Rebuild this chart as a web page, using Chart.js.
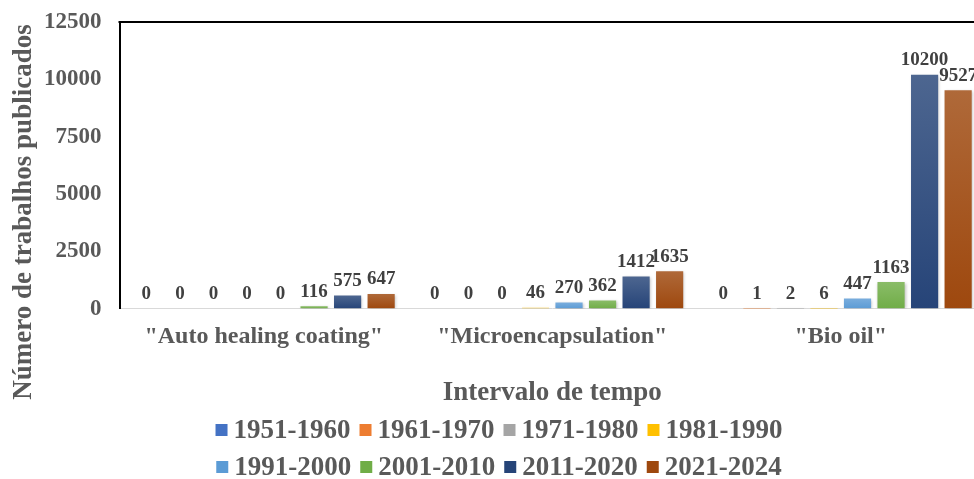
<!DOCTYPE html>
<html>
<head>
<meta charset="utf-8">
<script src="https://cdn.jsdelivr.net/npm/chart.js@4.4.1/dist/chart.umd.min.js"></script>
<style>
  html, body { margin: 0; padding: 0; background: #fff; overflow: hidden; }
  #wrap { width: 990px; height: 479px; }
</style>
</head>
<body>
<div id="wrap"><canvas id="myChart" width="990" height="479"></canvas></div>
<script>
// chart data
const categories = ['"Auto healing coating"', '"Microencapsulation"', '"Bio oil"'];
const seriesNames = ['1951-1960', '1961-1970', '1971-1980', '1981-1990', '1991-2000', '2001-2010', '2011-2020', '2021-2024'];
const s1951 = [0, 0, 0];
const s1961 = [0, 0, 1];
const s1971 = [0, 0, 2];
const s1981 = [0, 46, 6];
const s1991 = [0, 270, 447];
const s2001 = [116, 362, 1163];
const s2011 = [575, 1412, 10200];
const s2021 = [647, 1635, 9527];
const yTicks = [0, 2500, 5000, 7500, 10000, 12500];

const seriesValues = [s1951, s1961, s1971, s1981, s1991, s2001, s2011, s2021];
const seriesColors = ['#4472C4', '#ED7D31', '#A5A5A5', '#FFC000', '#5B9BD5', '#70AD47', '#264478', '#9E480E'];

const FONT = "'Liberation Serif', 'Times New Roman', serif";
const GREY = '#595959';

// lighter top, base colour at the bottom (like the excel gradient)
function lighten(hex, amt) {
    const n = parseInt(hex.slice(1), 16);
    let r = (n >> 16) & 255, g = (n >> 8) & 255, b = n & 255;
    r = Math.round(r + (255 - r) * amt);
    g = Math.round(g + (255 - g) * amt);
    b = Math.round(b + (255 - b) * amt);
    return 'rgb(' + r + ',' + g + ',' + b + ')';
}

function barFill(color) {
    return function(context) {
        const chart = context.chart;
        if (!chart.chartArea || context.raw === undefined) return color;
        const yScale = chart.scales.y;
        const top = yScale.getPixelForValue(context.raw);
        const bottom = yScale.getPixelForValue(0);
        if (bottom - top < 1) return color;
        const grad = chart.ctx.createLinearGradient(0, top, 0, bottom);
        grad.addColorStop(0, lighten(color, 0.18));
        grad.addColorStop(1, color);
        return grad;
    };
}

const datasets = seriesNames.map((name, i) => ({
    label: name,
    data: seriesValues[i],
    backgroundColor: barFill(seriesColors[i]),
    borderWidth: 0,
    categoryPercentage: 0.93,
    barPercentage: 0.81
}));

// value labels above every bar
const valueLabels = {
    id: 'valueLabels',
    afterDatasetsDraw(chart) {
        const ctx = chart.ctx;
        ctx.save();
        ctx.font = 'bold 19px ' + FONT;
        ctx.fillStyle = '#404040';
        ctx.textAlign = 'center';
        ctx.textBaseline = 'bottom';
        chart.data.datasets.forEach((ds, i) => {
            const meta = chart.getDatasetMeta(i);
            meta.data.forEach((bar, j) => {
                ctx.fillText(String(ds.data[j]), bar.x, bar.y - 5);
            });
        });
        ctx.restore();
    }
};

// soft shadow under the bars
const barShadow = {
    id: 'barShadow',
    beforeDatasetsDraw(chart) {
        const ctx = chart.ctx;
        ctx.save();
        ctx.shadowColor = 'rgba(0,0,0,0.25)';
        ctx.shadowBlur = 3;
        ctx.shadowOffsetX = 1;
        ctx.shadowOffsetY = 1;
    },
    afterDatasetsDraw(chart) {
        chart.ctx.restore();
    }
};

// top border, rotated y title and the 2-row legend
const frame = {
    id: 'frame',
    afterDraw(chart) {
        const ctx = chart.ctx;
        const a = chart.chartArea;
        ctx.save();
        ctx.strokeStyle = '#000';
        ctx.lineWidth = 2;
        ctx.beginPath();
        ctx.moveTo(a.left - 1, a.top);
        ctx.lineTo(a.right + 10, a.top);
        ctx.stroke();
        ctx.restore();

        ctx.save();
        ctx.translate(24, 212);
        ctx.rotate(-Math.PI / 2);
        ctx.font = 'bold 27px ' + FONT;
        ctx.fillStyle = GREY;
        ctx.textAlign = 'center';
        ctx.textBaseline = 'middle';
        ctx.fillText('Número de trabalhos publicados', 0, 0);
        ctx.restore();

        // legend, 4 entries per row
        ctx.save();
        ctx.font = 'bold 27px ' + FONT;
        ctx.textBaseline = 'middle';
        ctx.textAlign = 'left';
        const box = 12, gap = 6, spacing = 9;
        const rows = [[0, 1, 2, 3], [4, 5, 6, 7]];
        const rowY = [chart.height - 49, chart.height - 12];
        rows.forEach((row, r) => {
            const widths = row.map(i => box + gap + ctx.measureText(seriesNames[i]).width);
            const total = widths.reduce((s, w) => s + w, 0) + spacing * (row.length - 1);
            let x = chart.width / 2 + 4 - total / 2;
            row.forEach((i, k) => {
                ctx.fillStyle = seriesColors[i];
                ctx.fillRect(x, rowY[r] - box / 2, box, box);
                ctx.fillStyle = GREY;
                ctx.fillText(seriesNames[i], x + box + gap, rowY[r] + 1);
                x += widths[k] + spacing;
            });
        });
        ctx.restore();
    }
};

const ctx = document.getElementById('myChart').getContext('2d');
const myChart = new Chart(ctx, {
    type: 'bar',
    data: {
        labels: categories,
        datasets: datasets
    },
    options: {
        responsive: false,
        animation: false,
        layout: {
            padding: { left: 42, top: 22, right: 5, bottom: 70 }
        },
        plugins: {
            tooltip: { enabled: false },
            legend: { display: false }
        },
        scales: {
            x: {
                grid: { display: false },
                border: { color: '#d9d9d9', width: 1 },
                ticks: {
                    font: { family: FONT, size: 24, weight: 'bold' },
                    color: GREY,
                    padding: 6,
                    maxRotation: 0,
                    minRotation: 0,
                    autoSkip: false
                },
                title: {
                    display: true,
                    text: 'Intervalo de tempo',
                    font: { family: FONT, size: 27, weight: 'bold' },
                    color: GREY,
                    padding: { top: 19, bottom: 0 }
                }
            },
            y: {
                min: 0,
                max: 12500,
                afterBuildTicks(axis) {
                    axis.ticks = yTicks.map(v => ({ value: v }));
                },
                // invisible tick marks give the gap between labels and axis
                grid: { display: true, drawOnChartArea: false, drawTicks: true, tickLength: 16, color: 'rgba(0,0,0,0)' },
                border: { color: '#000', width: 2 },
                ticks: {
                    font: { family: FONT, size: 23, weight: 'bold' },
                    color: GREY,
                    padding: 2,
                    callback: v => String(v)
                }
            }
        }
    },
    plugins: [barShadow, valueLabels, frame]
});
</script>
</body>
</html>
